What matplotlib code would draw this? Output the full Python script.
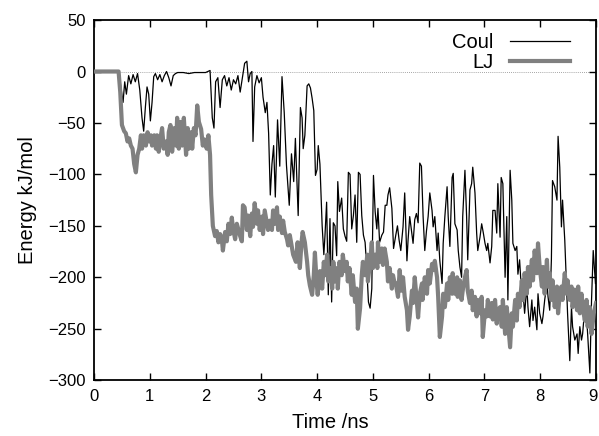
import matplotlib
matplotlib.use('Agg')
import matplotlib.pyplot as plt
from matplotlib.transforms import ScaledTranslation

# Coulomb energy (thin black line)
coul_t = [0.00, 0.40, 0.45, 0.48, 0.52, 0.55, 0.58, 0.62, 0.66, 0.70, 0.74, 0.78, 0.82, 0.86, 0.89,
          0.92, 0.95, 0.98, 1.01, 1.04, 1.07, 1.10, 1.14, 1.18, 1.22, 1.26, 1.30, 1.34, 1.38, 1.42,
          1.46, 1.50, 1.60, 1.70, 1.80, 1.90, 2.00, 2.08, 2.12, 2.15, 2.18, 2.22, 2.26, 2.30, 2.34,
          2.38, 2.42, 2.46, 2.50, 2.54, 2.58, 2.62, 2.66, 2.70, 2.74, 2.77, 2.80, 2.83, 2.85, 2.88,
          2.92, 2.96, 3.00, 3.03, 3.07, 3.10, 3.13, 3.16, 3.19, 3.22, 3.25, 3.29, 3.33, 3.37, 3.41,
          3.45, 3.50, 3.54, 3.58, 3.61, 3.66, 3.70, 3.73, 3.75, 3.78, 3.82, 3.85, 3.88, 3.91, 3.94,
          3.97, 4.00, 4.02, 4.05, 4.09, 4.12, 4.14, 4.17, 4.20, 4.23, 4.26, 4.29, 4.32, 4.35, 4.37,
          4.40, 4.44, 4.47, 4.50, 4.53, 4.56, 4.59, 4.62, 4.65, 4.68, 4.71, 4.74, 4.77, 4.80, 4.83,
          4.86, 4.89, 4.92, 4.95, 4.98, 5.01, 5.04, 5.07, 5.09, 5.12, 5.16, 5.19, 5.22, 5.25, 5.27,
          5.30, 5.34, 5.37, 5.41, 5.44, 5.47, 5.50, 5.54, 5.57, 5.61, 5.63, 5.66, 5.69, 5.72, 5.75,
          5.78, 5.81, 5.84, 5.87, 5.90, 5.93, 5.96, 5.99, 6.02, 6.06, 6.08, 6.11, 6.15, 6.17, 6.20,
          6.24, 6.26, 6.29, 6.33, 6.35, 6.38, 6.42, 6.44, 6.47, 6.51, 6.53, 6.56, 6.59, 6.61, 6.65,
          6.68, 6.70, 6.74, 6.77, 6.79, 6.83, 6.86, 6.88, 6.92, 6.95, 6.98, 7.01, 7.04, 7.06, 7.10,
          7.13, 7.15, 7.19, 7.22, 7.24, 7.28, 7.30, 7.33, 7.37, 7.40, 7.42, 7.46, 7.49, 7.51, 7.55,
          7.58, 7.60, 7.63, 7.67, 7.69, 7.72, 7.76, 7.78, 7.81, 7.85, 7.87, 7.90, 7.94, 7.96, 7.99,
          8.03, 8.05, 8.08, 8.12, 8.14, 8.17, 8.20, 8.22, 8.26, 8.30, 8.32, 8.35, 8.38, 8.40, 8.44,
          8.47, 8.49, 8.53, 8.56, 8.58, 8.62, 8.66, 8.68, 8.71, 8.74, 8.76, 8.80, 8.83, 8.85, 8.89,
          8.92, 8.95, 8.99]
coul_e = [0, 0, -1, -15, -30, -10, -22, -4, -12, -3, -10, -2, -18, -45, -58,
          -35, -15, -22, -48, -30, -5, -2, -8, -3, -10, -4, 0, -6, -14, -4,
          -2, -1, -1, -2, -1, -1, -1, 1, -45, -55, -10, -6, -35, -8, -4,
          -14, -6, -18, -8, -12, -4, -20, -6, 8, 10, -10, -2, 0, -68, -15,
          -4, -11, -6, -25, -40, -30, -60, -120, -90, -72, -122, -47, -92, -5, -40,
          -91, -130, -80, -107, -65, -140, -35, -45, -75, -62, -14, -12, -16, -26, -38,
          -101, -95, -72, -90, -150, -178, -160, -127, -217, -143, -224, -147, -150, -179, -107,
          -136, -123, -153, -160, -165, -98, -100, -153, -140, -120, -166, -98, -100, -140, -159,
          -166, -191, -224, -230, -211, -101, -136, -153, -133, -166, -159, -156, -130, -130, -120,
          -113, -133, -172, -159, -150, -164, -174, -151, -118, -184, -164, -141, -154, -167, -144,
          -138, -147, -89, -92, -141, -174, -155, -141, -118, -135, -151, -141, -174, -157, -184,
          -206, -167, -141, -112, -141, -170, -103, -99, -148, -154, -174, -190, -200, -141, -96,
          -141, -183, -115, -109, -93, -118, -157, -174, -161, -148, -157, -167, -174, -167, -186,
          -170, -135, -135, -157, -109, -161, -103, -109, -200, -141, -222, -96, -125, -167, -174,
          -170, -197, -183, -219, -213, -235, -209, -229, -248, -222, -242, -229, -251, -216, -235,
          -245, -238, -222, -206, -219, -232, -183, -106, -112, -125, -63, -93, -151, -125, -164,
          -206, -235, -281, -229, -248, -261, -255, -274, -248, -261, -255, -229, -238, -255, -293,
          -222, -174, -206]

# Lennard-Jones energy (thick grey line)
lj_t = [0.00, 0.44, 0.47, 0.50, 0.54, 0.57, 0.60, 0.63, 0.66, 0.69, 0.72, 0.75, 0.78, 0.81, 0.84,
        0.86, 0.89, 0.93, 0.96, 0.99, 1.02, 1.04, 1.08, 1.11, 1.13, 1.16, 1.19, 1.22, 1.25, 1.29,
        1.32, 1.34, 1.37, 1.40, 1.44, 1.47, 1.49, 1.52, 1.55, 1.58, 1.61, 1.65, 1.68, 1.70, 1.74,
        1.76, 1.79, 1.82, 1.85, 1.88, 1.92, 1.95, 1.98, 2.02, 2.05, 2.08, 2.10, 2.13, 2.17, 2.20,
        2.23, 2.26, 2.29, 2.31, 2.35, 2.38, 2.41, 2.44, 2.47, 2.49, 2.53, 2.56, 2.59, 2.62, 2.65,
        2.67, 2.70, 2.74, 2.76, 2.80, 2.83, 2.85, 2.88, 2.92, 2.94, 2.97, 3.01, 3.03, 3.06, 3.10,
        3.12, 3.15, 3.19, 3.21, 3.24, 3.28, 3.30, 3.33, 3.37, 3.39, 3.42, 3.46, 3.48, 3.51, 3.55,
        3.57, 3.62, 3.65, 3.69, 3.72, 3.74, 3.78, 3.82, 3.84, 3.87, 3.91, 3.94, 3.96, 3.99, 4.01,
        4.05, 4.09, 4.12, 4.14, 4.18, 4.20, 4.24, 4.27, 4.29, 4.32, 4.36, 4.37, 4.40, 4.44, 4.46,
        4.50, 4.53, 4.55, 4.58, 4.62, 4.64, 4.68, 4.71, 4.73, 4.77, 4.80, 4.82, 4.86, 4.90, 4.91,
        4.95, 4.98, 5.00, 5.04, 5.08, 5.09, 5.12, 5.16, 5.18, 5.21, 5.25, 5.27, 5.30, 5.34, 5.36,
        5.39, 5.41, 5.45, 5.48, 5.51, 5.54, 5.57, 5.61, 5.63, 5.66, 5.70, 5.72, 5.75, 5.79, 5.81,
        5.84, 5.88, 5.89, 5.93, 5.97, 5.99, 6.02, 6.06, 6.08, 6.11, 6.15, 6.17, 6.20, 6.24, 6.26,
        6.29, 6.33, 6.35, 6.38, 6.42, 6.43, 6.47, 6.51, 6.52, 6.56, 6.59, 6.61, 6.65, 6.68, 6.70,
        6.74, 6.77, 6.79, 6.83, 6.86, 6.88, 6.92, 6.95, 6.97, 7.01, 7.04, 7.06, 7.10, 7.13, 7.15,
        7.19, 7.22, 7.24, 7.28, 7.31, 7.33, 7.37, 7.40, 7.42, 7.46, 7.49, 7.51, 7.55, 7.58, 7.60,
        7.63, 7.67, 7.69, 7.72, 7.76, 7.78, 7.81, 7.85, 7.87, 7.90, 7.94, 7.96, 7.99, 8.03, 8.05,
        8.08, 8.12, 8.14, 8.17, 8.20, 8.22, 8.26, 8.30, 8.32, 8.35, 8.38, 8.40, 8.44, 8.47, 8.49,
        8.53, 8.56, 8.58, 8.62, 8.66, 8.68, 8.71, 8.74, 8.76, 8.80, 8.83, 8.85, 8.89, 8.92, 8.96,
        9.00]
lj_e = [0, 0, -20, -52, -58, -60, -68, -65, -72, -75, -90, -98, -81, -75, -62,
        -75, -62, -72, -59, -68, -62, -72, -62, -75, -62, -78, -65, -55, -75, -68,
        -81, -59, -52, -78, -55, -72, -45, -75, -49, -72, -45, -81, -55, -75, -59,
        -75, -55, -62, -33, -49, -56, -72, -66, -75, -62, -81, -120, -150, -160, -155,
        -166, -158, -162, -174, -156, -165, -148, -158, -142, -152, -163, -148, -154, -160, -165,
        -130, -132, -154, -140, -160, -138, -151, -128, -148, -135, -154, -141, -158, -135, -148,
        -154, -145, -154, -135, -148, -132, -154, -141, -157, -145, -156, -163, -169, -159, -172,
        -178, -185, -166, -191, -166, -156, -166, -185, -198, -208, -217, -198, -176, -204, -217,
        -194, -211, -185, -198, -178, -204, -191, -211, -185, -204, -191, -211, -185, -198, -178,
        -194, -185, -204, -191, -217, -198, -224, -211, -250, -230, -198, -185, -198, -178, -204,
        -185, -166, -191, -178, -191, -166, -185, -172, -188, -172, -185, -204, -191, -211, -198,
        -206, -206, -219, -193, -213, -200, -219, -232, -251, -238, -213, -225, -200, -225, -239,
        -216, -206, -222, -200, -216, -193, -206, -187, -193, -184, -200, -219, -258, -238, -216,
        -229, -206, -222, -200, -216, -196, -216, -200, -219, -203, -222, -213, -200, -193, -213,
        -225, -213, -232, -219, -238, -222, -235, -219, -258, -232, -238, -222, -238, -225, -241,
        -222, -245, -232, -229, -248, -222, -255, -229, -242, -268, -235, -248, -222, -242, -216,
        -229, -203, -222, -196, -216, -190, -209, -183, -203, -174, -196, -167, -190, -209, -190,
        -216, -183, -209, -196, -222, -203, -229, -209, -235, -216, -209, -222, -196, -216, -203,
        -222, -209, -229, -212, -232, -209, -235, -216, -229, -242, -222, -248, -229, -255, -235,
        -225]

plt.rcParams['font.family'] = ['Liberation Sans', 'DejaVu Sans']

fig = plt.figure(figsize=(5.99, 4.36), dpi=100)
ax = fig.add_axes([0.157, 0.128, 0.838, 0.826])

ax.axhline(0, color='#888888', lw=0.6, ls=(0, (1, 1.5)), zorder=1)
ax.plot(coul_t, coul_e, color='black', lw=0.9, label='Coul', zorder=2)
ax.plot(lj_t, lj_e, color='#808080', lw=3.0, label='LJ', zorder=3)

ax.set_xlim(0, 9)
ax.set_ylim(-300, 50)
ax.set_xticks(range(0, 10))
ax.set_yticks(range(-300, 51, 50))
ax.tick_params(direction='in', length=5, width=1, top=True, right=True, labelsize=12, pad=6)
for s in ax.spines.values():
    s.set_linewidth(1.3)

# last x label sits right at the figure edge, nudge it in a bit
last = ax.get_xticklabels()[-1]
last.set_transform(last.get_transform() + ScaledTranslation(-3 / 100, 0, fig.dpi_scale_trans))

ax.set_xlabel('Time /ns', fontsize=14.5)
ax.xaxis.set_label_coords(0.47, -0.09)
ax.set_ylabel('Energy kJ/mol', fontsize=14.5, labelpad=8)

ax.legend(loc='upper right', frameon=False, markerfirst=False, handlelength=3.0,
          handletextpad=0.8, fontsize=14.5, borderaxespad=0, borderpad=0,
          labelspacing=0.05, bbox_to_anchor=(570 / 599, 1 - 33 / 436),
          bbox_transform=fig.transFigure)

fig.savefig('out.png', dpi=100)
